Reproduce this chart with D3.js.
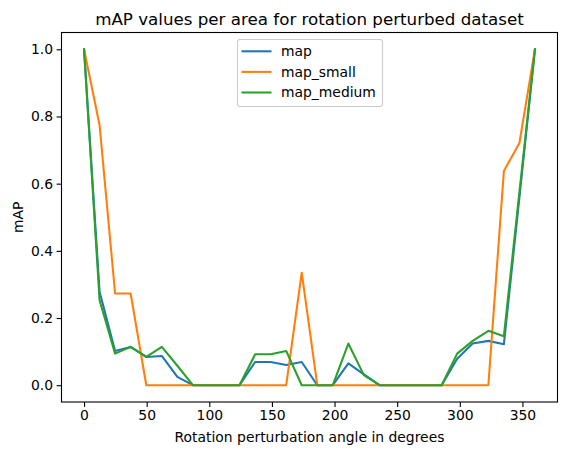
<!DOCTYPE html>
<html>
<head>
<meta charset="utf-8">
<script src="https://cdn.jsdelivr.net/npm/d3@7"></script>
<style>
  body { margin: 0; background: #fff; }
  svg { font-family: "DejaVu Sans", sans-serif; }
</style>
</head>
<body>
<div id="chart-area"></div>
<script>
// rotation angles (degrees)
var angles = [0, 12.4, 24.8, 37.2, 49.7, 62.1, 74.5, 86.9, 99.3, 111.7,
              124.1, 136.6, 149.0, 161.4, 173.8, 186.2, 198.6, 211.0, 223.4, 235.9,
              248.3, 260.7, 273.1, 285.5, 297.9, 310.3, 322.8, 335.2, 347.6, 360];

var mapAll = [1.0, 0.278, 0.102, 0.114, 0.084, 0.087, 0.025, 0, 0, 0,
              0, 0.069, 0.069, 0.060, 0.069, 0, 0, 0.065, 0.032, 0,
              0, 0, 0, 0, 0.079, 0.124, 0.132, 0.122, 0.56, 1.0];

var mapSmall = [1.0, 0.774, 0.273, 0.273, 0, 0, 0, 0, 0, 0,
                0, 0, 0, 0, 0.335, 0, 0, 0, 0, 0,
                0, 0, 0, 0, 0, 0, 0, 0.638, 0.721, 1.0];

var mapMedium = [1.0, 0.253, 0.094, 0.114, 0.084, 0.114, 0.058, 0, 0, 0,
                 0, 0.092, 0.092, 0.102, 0, 0, 0, 0.124, 0.030, 0,
                 0, 0, 0, 0, 0.094, 0.132, 0.162, 0.146, 0.575, 1.0];

var seriesNames = ["map", "map_small", "map_medium"];
var seriesColors = ["#1f77b4", "#ff7f0e", "#2ca02c"];
var xTicks = [0, 50, 100, 150, 200, 250, 300, 350];
var yTicks = [0, 0.2, 0.4, 0.6, 0.8, 1.0];

var W = 567, H = 455;
var margin = {left: 61.5, right: 557.5, top: 32.5, bottom: 402};

var svg = d3.select("#chart-area")
    .append("svg")
        .attr("width", W)
        .attr("height", H);

// x scale, with matplotlib-like 5% margins
var x = d3.scaleLinear()
    .domain([-18, 378])
    .range([margin.left, margin.right]);

// y scale
var y = d3.scaleLinear()
    .domain([-0.05, 1.05])
    .range([margin.bottom, margin.top]);

var xAxisCall = d3.axisBottom(x)
    .tickValues(xTicks)
    .tickSize(4.9)
    .tickPadding(3.5)
    .tickFormat(d3.format("d"));
var xg = svg.append("g")
    .attr("transform", "translate(0, " + margin.bottom + ")")
    .call(xAxisCall);

var yAxisCall = d3.axisLeft(y)
    .tickValues(yTicks)
    .tickSize(4.9)
    .tickPadding(3.5)
    .tickFormat(d3.format(".1f"));
var yg = svg.append("g")
    .attr("transform", "translate(" + margin.left + ", 0)")
    .call(yAxisCall);

[xg, yg].forEach(function(g){
    g.select(".domain").remove();
    g.selectAll(".tick line").attr("stroke", "#000").attr("stroke-width", 1.1);
    g.selectAll(".tick text")
        .attr("fill", "#000")
        .attr("font-size", "13.9px")
        .attr("font-family", "DejaVu Sans");
});

// lines
var series = [mapAll, mapSmall, mapMedium];
var line = d3.line()
    .x(function(d, i){ return x(angles[i]); })
    .y(function(d){ return y(d); });

svg.selectAll("path.series")
    .data(series)
    .enter()
    .append("path")
        .attr("class", "series")
        .attr("d", line)
        .attr("fill", "none")
        .attr("stroke", function(d, i){ return seriesColors[i]; })
        .attr("stroke-width", 2.08)
        .attr("stroke-linejoin", "round")
        .attr("stroke-linecap", "square");

// frame
svg.append("rect")
    .attr("x", margin.left)
    .attr("y", margin.top)
    .attr("width", margin.right - margin.left)
    .attr("height", margin.bottom - margin.top)
    .attr("fill", "none")
    .attr("stroke", "#000")
    .attr("stroke-width", 1.1);

// title
svg.append("text")
    .attr("x", (margin.left + margin.right) / 2)
    .attr("y", 24.5)
    .attr("text-anchor", "middle")
    .attr("font-size", "16.7px")
    .text("mAP values per area for rotation perturbed dataset");

// x label
svg.append("text")
    .attr("x", (margin.left + margin.right) / 2)
    .attr("y", 442)
    .attr("text-anchor", "middle")
    .attr("font-size", "13.9px")
    .text("Rotation perturbation angle in degrees");

// y label
svg.append("text")
    .attr("transform", "translate(23, " + ((margin.top + margin.bottom) / 2) + ") rotate(-90)")
    .attr("text-anchor", "middle")
    .attr("font-size", "13.9px")
    .text("mAP");

// legend
var lg = svg.append("g").attr("transform", "translate(237.5, 39.5)");
lg.append("rect")
    .attr("width", 145)
    .attr("height", 67)
    .attr("rx", 2.5)
    .attr("fill", "#fff")
    .attr("fill-opacity", 0.8)
    .attr("stroke", "#ccc")
    .attr("stroke-width", 1.1);

var items = lg.selectAll("g.item")
    .data(seriesNames)
    .enter()
    .append("g")
        .attr("class", "item")
        .attr("transform", function(d, i){ return "translate(0, " + (11.8 + i * 20.6) + ")"; });

items.append("line")
    .attr("x1", 4)
    .attr("x2", 34)
    .attr("stroke", function(d, i){ return seriesColors[i]; })
    .attr("stroke-width", 2.08);

items.append("text")
    .attr("x", 43.5)
    .attr("y", 4.8)
    .attr("font-size", "13.9px")
    .text(function(d){ return d; });
</script>
</body>
</html>
